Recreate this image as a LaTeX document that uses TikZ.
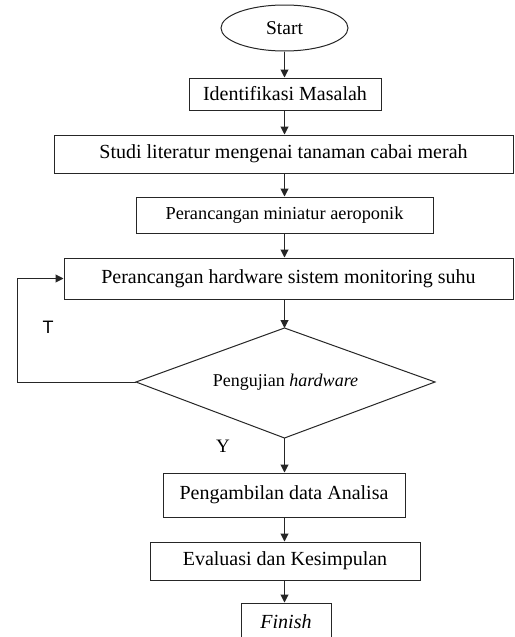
\documentclass[tikz,border=0pt]{standalone}
\usepackage{fontspec}
\setmainfont{Liberation Serif}
\newfontfamily\sansT{Liberation Sans}
\usetikzlibrary{shapes.geometric,arrows.meta}
\tikzset{
  box/.style={draw=black!85, line width=1pt, rectangle, inner sep=0pt, font=\fontsize{20}{24}\selectfont},
  dectext/.style={inner sep=0pt, font=\fontsize{18}{22}\selectfont},
  decline/.style={draw=black!85, line width=1pt, line join=miter},
  term/.style={draw=black!85, line width=1pt, ellipse, inner sep=0pt, minimum width=127pt, minimum height=46pt, font=\fontsize{19.5}{23}\selectfont},
  flow/.style={draw=black!85, line width=1pt, -{Triangle[length=8pt,width=8pt]}},
  lbl/.style={inner sep=0pt, font=\fontsize{19}{23}\selectfont}
}
\begin{document}
\begin{tikzpicture}[x=1pt,y=-1pt]
\useasboundingbox[fill=white] (0,0) rectangle (514,637);
\node[term] (start) at (284.5,28) {Start};
\node[box, minimum width=192pt, minimum height=32pt] (id) at (285,94) {Identifikasi Masalah};
\node[box, minimum width=459pt, minimum height=38pt] (studi) at (283.5,154) {Studi literatur mengenai tanaman cabai merah};
\node[box, minimum width=297pt, minimum height=36pt, font=\fontsize{18.3}{22}\selectfont] (mini) at (284.5,215) {Perancangan miniatur aeroponik};
\node[box, minimum width=449pt, minimum height=41pt] (hw) at (288.5,278.5) {Perancangan hardware sistem monitoring suhu};
\coordinate (ujiN) at (284.5,328);
\coordinate (ujiE) at (435,382);
\coordinate (ujiS) at (284.5,438);
\coordinate (ujiW) at (136,382);
\draw[decline] (ujiN) -- (ujiE) -- (ujiS) -- (ujiW) -- cycle;
\node[dectext] (uji) at (285.5,382) {Pengujian \textit{hardware}};
\node[box, minimum width=242pt, minimum height=44pt] (ambil) at (284,495) {Pengambilan data Analisa};
\node[box, minimum width=270pt, minimum height=38pt] (eval) at (285,561) {Evaluasi dan Kesimpulan};
\node[box, minimum width=90pt, minimum height=38pt] (fin) at (286,622) {\textit{Finish}};
\coordinate (loop) at (17,382);
\node[lbl, font=\sansT\fontsize{18}{22}\selectfont] (T) at (48,327) {T};
\node[lbl] (Y) at (223,446) {Y};
\draw[flow] (start.south) -- (start.south |- id.north);
\draw[flow] (id.south -| start.south) -- (start.south |- studi.north);
\draw[flow] (start.south |- studi.south) -- (start.south |- mini.north);
\draw[flow] (start.south |- mini.south) -- (start.south |- hw.north);
\draw[flow] (start.south |- hw.south) -- (ujiN);
\draw[flow] (ujiS) -- (ujiS |- ambil.north);
\draw[flow] (ujiS |- ambil.south) -- (ujiS |- eval.north);
\draw[flow] (ujiS |- eval.south) -- (ujiS |- fin.north);
\draw[flow] (ujiW) -- (loop) |- (hw.west);
\end{tikzpicture}
\end{document}
